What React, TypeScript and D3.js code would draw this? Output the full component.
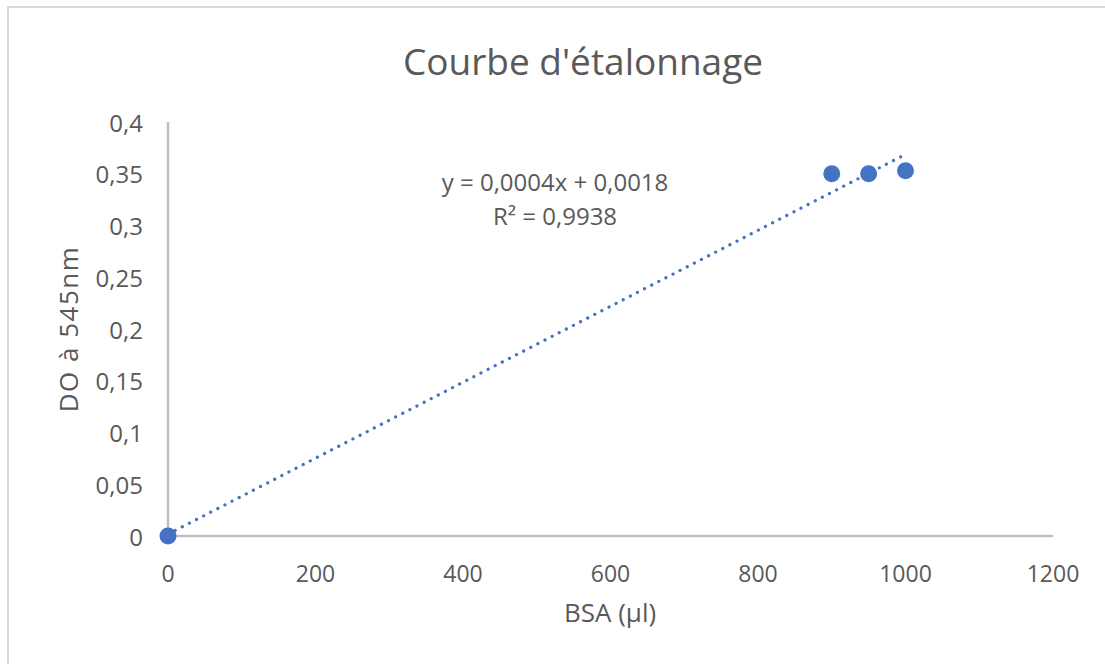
import { useEffect, useRef } from "react";
import * as d3 from "d3";

const bsa = [0, 900, 950, 1000];
const absorbance = [0, 0.35, 0.35, 0.353];
const xTicks = [0, 200, 400, 600, 800, 1000, 1200];
const yTicks = [0, 0.05, 0.1, 0.15, 0.2, 0.25, 0.3, 0.35, 0.4];
const equationLines = ["y = 0,0004x + 0,0018", "R² = 0,9938"];

function App() {
    const ref = useRef<SVGSVGElement>(null);
    const width = 1105;
    const height = 664;

    useEffect(() => {
        const svg = d3.select(ref.current);
        svg.selectAll("*").remove();

        const font = "'Open Sans', sans-serif";
        const grey = "#595959";
        const blue = "#4472C4";

        svg.append("rect")
            .attr("x", 8).attr("y", 7)
            .attr("width", width).attr("height", height)
            .attr("fill", "#fff")
            .attr("stroke", "#D9D9D9")
            .attr("stroke-width", 2);

        const xScale = d3.scaleLinear().domain([0, 1200]).range([168, 1053]);
        const yScale = d3.scaleLinear().domain([0, 0.4]).range([536, 122]);

        // axes lines
        svg.append("line")
            .attr("x1", xScale(0)).attr("x2", xScale(1200))
            .attr("y1", yScale(0)).attr("y2", yScale(0))
            .attr("stroke", "#BFBFBF").attr("stroke-width", 2.5);
        svg.append("line")
            .attr("x1", xScale(0)).attr("x2", xScale(0))
            .attr("y1", yScale(0)).attr("y2", yScale(0.4))
            .attr("stroke", "#BFBFBF").attr("stroke-width", 2.5);

        const fmt = (v: number) => d3.format("~g")(+v.toFixed(2)).replace(".", ",");

        svg.append("g").selectAll("text")
            .data(xTicks)
            .join("text")
            .attr("x", d => xScale(d))
            .attr("y", 573)
            .attr("text-anchor", "middle")
            .attr("dominant-baseline", "central")
            .attr("fill", grey)
            .style("font-family", font)
            .style("font-size", "23px")
            .text(d => String(d));

        svg.append("g").selectAll("text")
            .data(yTicks)
            .join("text")
            .attr("x", 143)
            .attr("y", d => yScale(d))
            .attr("text-anchor", "end")
            .attr("dominant-baseline", "central")
            .attr("fill", grey)
            .style("font-family", font)
            .style("font-size", "24px")
            .text(d => fmt(d));

        // trendline from least squares
        const mx = d3.mean(bsa) as number;
        const my = d3.mean(absorbance) as number;
        const sxy = d3.sum(bsa, (x, i) => (x - mx) * (absorbance[i] - my));
        const sxx = d3.sum(bsa, x => (x - mx) ** 2);
        const slope = sxy / sxx;
        const intercept = my - slope * mx;
        const xExtent = d3.extent(bsa) as [number, number];

        svg.append("path")
            .datum(xExtent)
            .attr("d", d3.line<number>().x(d => xScale(d)).y(d => yScale(slope * d + intercept)))
            .attr("fill", "none")
            .attr("stroke", blue)
            .attr("stroke-width", 3.2)
            .attr("stroke-linecap", "round")
            .attr("stroke-dasharray", "0.1 7.9");

        svg.append("g").selectAll("circle")
            .data(bsa)
            .join("circle")
            .attr("cx", d => xScale(d))
            .attr("cy", (d, i) => yScale(absorbance[i]))
            .attr("r", 8.5)
            .attr("fill", blue);

        svg.append("g").selectAll("text")
            .data(equationLines)
            .join("text")
            .attr("x", 555)
            .attr("y", (d, i) => 181 + i * 34)
            .attr("text-anchor", "middle")
            .attr("dominant-baseline", "central")
            .attr("fill", grey)
            .style("font-family", font)
            .style("font-size", "24px")
            .text(d => d);

        svg.append("text")
            .attr("x", 583).attr("y", 60)
            .attr("text-anchor", "middle")
            .attr("dominant-baseline", "central")
            .attr("fill", grey)
            .style("font-family", font)
            .style("font-size", "37px")
            .text("Courbe d'étalonnage");

        svg.append("text")
            .attr("x", 610).attr("y", 612)
            .attr("text-anchor", "middle")
            .attr("dominant-baseline", "central")
            .attr("fill", grey)
            .style("font-family", font)
            .style("font-size", "26px")
            .text("BSA (µl)");

        svg.append("text")
            .attr("transform", "translate(68,329) rotate(-90)")
            .attr("text-anchor", "middle")
            .attr("dominant-baseline", "central")
            .attr("fill", grey)
            .style("font-family", font)
            .style("font-size", "26px")
            .style("letter-spacing", "1.5px")
            .text("DO à 545nm");
    }, []);

    return (
        <svg ref={ref} width={width} height={height}
            style={{ position: "absolute", left: 0, top: 0, background: "#fff" }} />
    );
}

export default App;
